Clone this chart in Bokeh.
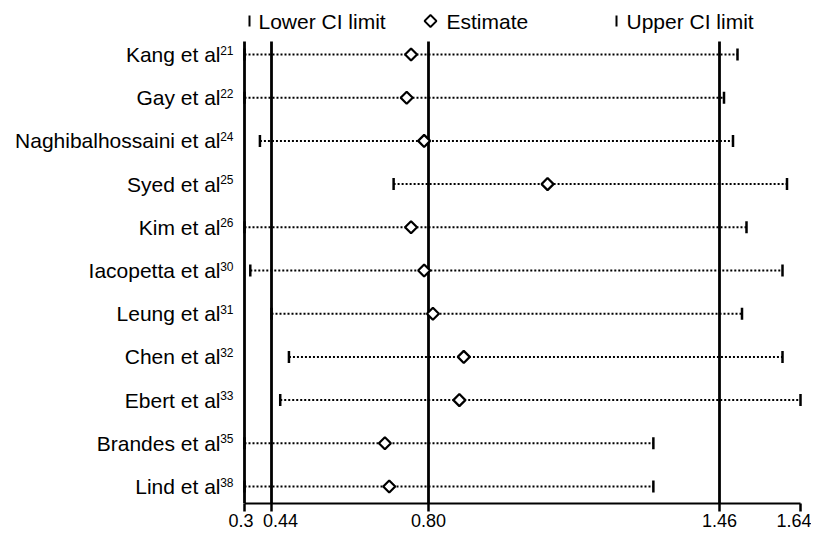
import numpy as np
from bokeh.plotting import figure
from bokeh.models import Range1d, FixedTicker, LinearAxis
from bokeh.core.properties import value
from bokeh.embed import file_html
from bokeh.resources import INLINE

# ---------------- data ----------------
studies = ["Kang et al", "Gay et al", "Naghibalhossaini et al", "Syed et al",
           "Kim et al", "Iacopetta et al", "Leung et al", "Chen et al",
           "Ebert et al", "Brandes et al", "Lind et al"]
ref_numbers = ["21", "22", "24", "25", "26", "30", "31", "32", "33", "35", "38"]
estimate = [0.76, 0.75, 0.79, 1.07, 0.76, 0.79, 0.81, 0.88, 0.87, 0.70, 0.71]
lower_ci = [0.30, 0.30, 0.38, 0.72, 0.30, 0.33, 0.44, 0.48, 0.46, 0.30, 0.30]
upper_ci = [1.50, 1.47, 1.49, 1.61, 1.52, 1.60, 1.51, 1.60, 1.64, 1.31, 1.31]

overall_lower = 0.44
overall_estimate = 0.80
overall_upper = 1.46
axis_min = 0.3
axis_max = 1.64

tick_values = [0.3, 0.44, 0.80, 1.46, 1.64]
tick_labels = ["0.3", "0.44", "0.80", "1.46", "1.64"]
legend_labels = ["Lower CI limit", "Estimate", "Upper CI limit"]

# ---------------- layout / style ----------------
# The reference axis is not uniformly spaced: its ticks sit at these screen offsets
# (pixels to the right of the 0.3 tick).
AXIS_PX = [0, 27, 184, 475, 556]
# where the reference centres each tick label (the two leftmost are nudged apart)
LABEL_PX = [-3.5, 36, 184, 475, 556]


def to_x(v):
    return np.interp(v, tick_values, AXIS_PX)


FONT = "Liberation Sans"
W, H = 811, 534
FRAME_H = 503                 # frame runs from the page top to the x axis
ROW0 = 54.0                   # page y of first row
ROW_STEP = 43.2


def row_of(py):
    return (py - ROW0) / ROW_STEP


y_top = row_of(0)
y_bottom = row_of(FRAME_H)
line_top = row_of(41)
SUP_SHIFT = 4.5 / ROW_STEP     # superscripts sit a little higher than the names

n = len(studies)
rows = list(range(n))

p = figure(width=W, height=H, output_backend="svg", toolbar_location=None,
           x_range=Range1d(-8, 560), y_range=Range1d(y_bottom, y_top),
           y_axis_location=None,
           min_border_left=236, min_border_right=W - 804, min_border_top=0,
           min_border_bottom=H - FRAME_H)
p.xgrid.visible = False
p.ygrid.visible = False
p.outline_line_color = None
p.background_fill_color = "white"
p.border_fill_color = "white"
p.extra_y_ranges = {"sup": Range1d(y_bottom + SUP_SHIFT, y_top + SUP_SHIFT)}

# overall reference lines
ref_x = to_x([axis_min, overall_lower, overall_estimate, overall_upper])
p.segment(x0=ref_x, y0=[line_top] * 4, x1=ref_x, y1=[y_bottom] * 4,
          line_color="black", line_width=2.8)

# per-study dotted CI lines, CI limit bars and estimates
p.segment(x0=to_x(lower_ci), y0=rows, x1=to_x(upper_ci), y1=rows,
          line_color="black", line_width=2, line_dash="2 2")
p.rect(x=to_x(lower_ci), y=rows, width=2.5, height=12,
       width_units="screen", height_units="screen",
       fill_color="black", line_color=None)
p.rect(x=to_x(upper_ci), y=rows, width=2.5, height=12,
       width_units="screen", height_units="screen",
       fill_color="black", line_color=None)
p.scatter(x=to_x(estimate), y=rows, marker="square", angle=np.pi / 4,
          size=8.5, fill_color="white", line_color="black", line_width=2.2)

# legend row across the top (glyph centres / text offsets in screen px)
LEG_Y = row_of(20.5)
LEG_X = [5, 186, 372]
LEG_TEXT_DX = [9, 16, 10]
p.rect(x=[LEG_X[0], LEG_X[2]], y=[LEG_Y, LEG_Y], width=2, height=11,
       width_units="screen", height_units="screen",
       fill_color="black", line_color=None)
p.scatter(x=[LEG_X[1]], y=[LEG_Y], marker="square", angle=np.pi / 4,
          size=8.5, fill_color="white", line_color="black", line_width=1.8)
p.text(x=LEG_X, y=[LEG_Y] * 3, text=legend_labels, x_offset=LEG_TEXT_DX,
       text_font=value(FONT), text_font_size="21px", text_color="black",
       text_align="left", text_baseline="middle")

# x axis: minor ticks mark the positions, major (invisible) ticks carry labels
p.xaxis.ticker = FixedTicker(ticks=LABEL_PX, minor_ticks=AXIS_PX)
p.xaxis.major_label_overrides = {px: lab for px, lab in zip(LABEL_PX, tick_labels)}
p.xaxis.bounds = (AXIS_PX[0], AXIS_PX[-1])
p.xaxis.axis_line_width = 2.2
p.xaxis.axis_line_color = "black"
p.xaxis.major_tick_in = 0
p.xaxis.major_tick_out = 8
p.xaxis.major_tick_line_color = None
p.xaxis.minor_tick_in = 0
p.xaxis.minor_tick_out = 8
p.xaxis.minor_tick_line_width = 2.5
p.xaxis.minor_tick_line_color = "black"
p.xaxis.major_label_standoff = 2
p.xaxis.major_label_text_font = FONT
p.xaxis.major_label_text_font_size = "18px"
p.xaxis.major_label_text_color = "black"


def label_axis(range_name, labels, size, standoff):
    ax = LinearAxis(y_range_name=range_name,
                    ticker=FixedTicker(ticks=rows, minor_ticks=[]),
                    major_label_overrides={i: labels[i] for i in rows})
    ax.axis_line_color = None
    ax.major_tick_line_color = None
    ax.minor_tick_line_color = None
    ax.major_tick_in = 0
    ax.major_tick_out = 0
    ax.minor_tick_in = 0
    ax.minor_tick_out = 0
    ax.major_label_standoff = standoff
    ax.major_label_text_font = FONT
    ax.major_label_text_font_size = size
    ax.major_label_text_color = "black"
    return ax


# inner axis: reference superscripts; outer axis: study names
p.add_layout(label_axis("sup", ref_numbers, "12px", 3), "left")
p.add_layout(label_axis("default", studies, "21px", -3), "left")

open("out.html", "w").write(file_html(p, INLINE))
